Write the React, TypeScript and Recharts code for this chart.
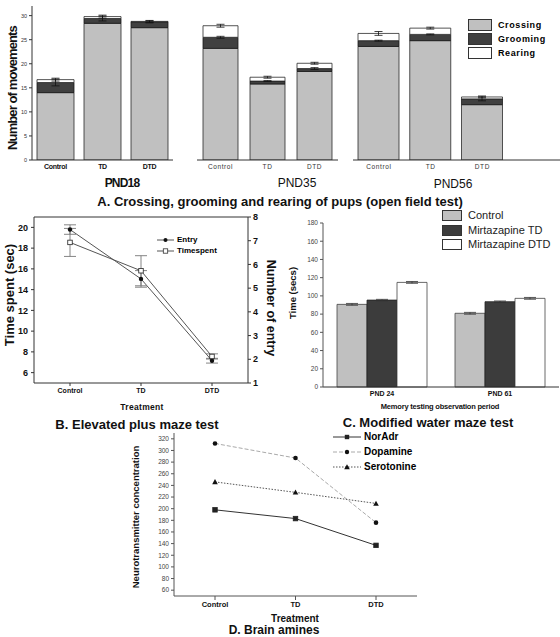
import React from 'react'
import { BarChart, Bar, LineChart, Line, XAxis, YAxis, ErrorBar, ReferenceLine } from 'recharts'

const FONT = '"Liberation Sans", Arial, sans-serif'

// A. open field test (number of movements)
const treatments = ['Control', 'TD', 'DTD']
const crossingPnd18 = [14.0, 28.4, 27.5]
const groomingPnd18 = [2.1, 1.0, 1.2]
const rearingPnd18 = [0.6, 0.4, 0.1]
const groomingErrPnd18 = [0.7, 0.5, 0.2]
const rearingErrPnd18 = [0.3, 0.3, 0.2]

const crossingPnd35 = [23.2, 15.8, 18.4]
const groomingPnd35 = [2.3, 0.6, 0.6]
const rearingPnd35 = [2.4, 0.8, 1.1]
const groomingErrPnd35 = [0.2, 0.1, 0.2]
const rearingErrPnd35 = [0.3, 0.2, 0.2]

const crossingPnd56 = [23.6, 24.8, 11.5]
const groomingPnd56 = [1.2, 1.3, 1.2]
const rearingPnd56 = [1.5, 1.3, 0.4]
const groomingErrPnd56 = [0.1, 0.1, 0.4]
const rearingErrPnd56 = [0.4, 0.2, 0.2]

const movementTicks = [0, 5, 10, 15, 20, 25, 30]

// B. elevated plus maze
const mazeEntry = [7.47, 5.39, 1.94]
const mazeEntryErr = [0.2, 0.35, 0.1]
const mazeTimespent = [18.55, 15.82, 7.56]
const mazeTimespentErr = [1.35, 1.45, 0.25]
const timeTicks = [6, 8, 10, 12, 14, 16, 18, 20]
const entryTicks = [1, 2, 3, 4, 5, 6, 7, 8]

// C. modified water maze
const periods = ['PND 24', 'PND 61']
const waterControl = [90.7, 80.9]
const waterTD = [95.4, 93.6]
const waterDTD = [114.8, 97.3]
const waterErr = [1.0, 0.8, 1.0]
const waterTicks = [0, 20, 40, 60, 80, 100, 120, 140, 160, 180]

// D. brain amines
const norAdr = [198, 183, 137]
const dopamine = [312, 287, 176]
const serotonine = [246, 228, 209]
const amineTicks = [60, 80, 100, 120, 140, 160, 180, 200, 220, 240, 260, 280, 300, 320]

const openFieldRows = (c: number[], g: number[], r: number[], ge: number[], re: number[]) =>
  treatments.map((name, i) => ({
    name,
    crossing: c[i],
    grooming: g[i],
    rearing: r[i],
    groomingErr: ge[i],
    rearingErr: re[i],
  }))

const pnd18Rows = openFieldRows(crossingPnd18, groomingPnd18, rearingPnd18, groomingErrPnd18, rearingErrPnd18)
const pnd35Rows = openFieldRows(crossingPnd35, groomingPnd35, rearingPnd35, groomingErrPnd35, rearingErrPnd35)
const pnd56Rows = [
  ...openFieldRows(crossingPnd56, groomingPnd56, rearingPnd56, groomingErrPnd56, rearingErrPnd56),
  { name: ' ' },
]

const mazeRows = treatments.map((name, i) => ({
  name,
  entry: mazeEntry[i],
  entryErr: mazeEntryErr[i],
  timespent: mazeTimespent[i],
  timespentErr: mazeTimespentErr[i],
}))

const waterRows = periods.map((name, i) => ({
  name,
  control: waterControl[i],
  td: waterTD[i],
  dtd: waterDTD[i],
  controlErr: waterErr[0],
  tdErr: waterErr[1],
  dtdErr: waterErr[2],
}))

const amineRows = treatments.map((name, i) => ({
  name,
  norAdr: norAdr[i],
  dopamine: dopamine[i],
  serotonine: serotonine[i],
}))

type DotProps = { cx?: number; cy?: number; index?: number }

const squareDot = (fill: string, size: number) => (p: DotProps) => (
  <rect
    key={`sq-${p.index}`}
    x={(p.cx ?? 0) - size / 2}
    y={(p.cy ?? 0) - size / 2}
    width={size}
    height={size}
    fill={fill}
    stroke="#222"
    strokeWidth={0.8}
  />
)

const circleDot = (r: number) => (p: DotProps) => (
  <circle key={`ci-${p.index}`} cx={p.cx} cy={p.cy} r={r} fill="#111" />
)

const triangleDot = (s: number) => (p: DotProps) => {
  const x = p.cx ?? 0
  const y = p.cy ?? 0
  return <polygon key={`tr-${p.index}`} points={`${x},${y - s} ${x - s},${y + s * 0.8} ${x + s},${y + s * 0.8}`} fill="#111" />
}

function Caption({
  x, y, children, size = 13, weight = 'bold', rotate = 0, color = '#111', spacing = 0,
}: {
  x: number
  y: number
  children: React.ReactNode
  size?: number
  weight?: string
  rotate?: number
  color?: string
  spacing?: number
}) {
  return (
    <div
      style={{
        position: 'absolute',
        left: x,
        top: y,
        transform: `translate(-50%, -50%) rotate(${rotate}deg)`,
        whiteSpace: 'nowrap',
        fontSize: size,
        fontWeight: weight as any,
        color,
        letterSpacing: spacing,
        fontFamily: FONT,
        lineHeight: 1,
      }}
    >
      {children}
    </div>
  )
}

function OpenFieldChart({
  rows, left, width, right, barSize, withAxis, boldTicks,
}: {
  rows: any[]
  left: number
  width: number
  right: number
  barSize: number
  withAxis: boolean
  boldTicks: boolean
}) {
  const tick = boldTicks
    ? { fontSize: 7, fontWeight: 'bold', fill: '#111', fontFamily: FONT, letterSpacing: -0.3 }
    : { fontSize: 6.5, fill: '#333', fontFamily: FONT, letterSpacing: 0.6 }
  return (
    <div style={{ position: 'absolute', left, top: 0 }}>
      <BarChart width={width} height={175} data={rows} margin={{ top: 6, right, left: 0, bottom: 0 }}>
        <XAxis
          dataKey="name"
          height={15}
          interval={0}
          tickLine={false}
          tickSize={0}
          tickMargin={4}
          axisLine={{ stroke: '#333' }}
          tick={tick}
        />
        <YAxis
          hide={!withAxis}
          width={32}
          domain={[0, 32]}
          ticks={movementTicks}
          interval={0}
          allowDataOverflow
          tick={{ fontSize: 5.5, fill: '#333', fontFamily: FONT }}
          tickSize={3}
          tickMargin={2}
          axisLine={{ stroke: '#333' }}
          tickLine={{ stroke: '#333' }}
        />
        <Bar dataKey="crossing" stackId="a" fill="#c0c0c0" stroke="#2a2a2a" strokeWidth={0.8} barSize={barSize} isAnimationActive={false} />
        <Bar dataKey="grooming" stackId="a" fill="#404040" stroke="#1a1a1a" strokeWidth={0.8} barSize={barSize} isAnimationActive={false}>
          <ErrorBar dataKey="groomingErr" direction="y" width={4} stroke="#111" strokeWidth={0.8} />
        </Bar>
        <Bar dataKey="rearing" stackId="a" fill="#ffffff" stroke="#2a2a2a" strokeWidth={0.8} barSize={barSize} isAnimationActive={false}>
          <ErrorBar dataKey="rearingErr" direction="y" width={4} stroke="#111" strokeWidth={0.8} />
        </Bar>
      </BarChart>
    </div>
  )
}

function Swatch({ x, y, w, h, fill, children, textStyle }: any) {
  return (
    <div style={{ position: 'absolute', left: x, top: y - h / 2, display: 'flex', alignItems: 'center', fontFamily: FONT }}>
      <div style={{ width: w, height: h, background: fill, border: '1px solid #333', boxSizing: 'border-box' }} />
      <span style={{ marginLeft: 6, whiteSpace: 'nowrap', lineHeight: 1, ...textStyle }}>{children}</span>
    </div>
  )
}

function LineKey({ x, y, w, dash, stroke, marker, children, textStyle }: any) {
  return (
    <div style={{ position: 'absolute', left: x, top: y - 5, display: 'flex', alignItems: 'center', fontFamily: FONT }}>
      <svg width={w} height={10}>
        <line x1={0} y1={5} x2={w} y2={5} stroke={stroke} strokeDasharray={dash} strokeWidth={1} />
        {marker(w / 2, 5)}
      </svg>
      <span style={{ marginLeft: 3, whiteSpace: 'nowrap', lineHeight: 1, ...textStyle }}>{children}</span>
    </div>
  )
}

export default function App() {
  const boldTick = { fontSize: 7, fontWeight: 'bold', fill: '#111', fontFamily: FONT }
  const grayTick = { fontSize: 6.5, fill: '#444', fontFamily: FONT }
  return (
    <div style={{ position: 'absolute', left: 0, top: 0, width: 560, height: 637, background: '#fff', overflow: 'hidden', fontFamily: FONT }}>
      {/* A */}
      <OpenFieldChart rows={pnd18Rows} left={0} width={180} right={7} barSize={37} withAxis boldTicks />
      <OpenFieldChart rows={pnd35Rows} left={197} width={145} right={4} barSize={35} withAxis={false} boldTicks={false} />
      <OpenFieldChart rows={pnd56Rows} left={353} width={207} right={0} barSize={41} withAxis={false} boldTicks={false} />
      <Caption x={12} y={88} rotate={-90} size={13} spacing={-0.9}>Number of movements</Caption>
      <Caption x={122} y={183} size={12} spacing={-0.8}>PND18</Caption>
      <Caption x={297} y={183} size={12} weight="normal">PND35</Caption>
      <Caption x={453} y={184} size={12} weight="normal">PND56</Caption>
      <Caption x={280} y={201} size={13}>A. Crossing, grooming and rearing of pups (open field test)</Caption>
      <Swatch x={468} y={25} w={24} h={12} fill="#c0c0c0" textStyle={{ fontSize: 9, fontWeight: 'bold', letterSpacing: 0.6 }}>Crossing</Swatch>
      <Swatch x={468} y={39} w={24} h={12} fill="#404040" textStyle={{ fontSize: 9, fontWeight: 'bold', letterSpacing: 0.6 }}>Grooming</Swatch>
      <Swatch x={468} y={53} w={24} h={12} fill="#ffffff" textStyle={{ fontSize: 9, fontWeight: 'bold', letterSpacing: 0.6 }}>Rearing</Swatch>

      {/* B */}
      <div style={{ position: 'absolute', left: 0, top: 210 }}>
        <LineChart width={280} height={190} data={mazeRows} margin={{ top: 7, right: 0, left: 0, bottom: 1 }}>
          <XAxis
            dataKey="name"
            height={16}
            interval={0}
            padding={{ left: 36, right: 36 }}
            tick={boldTick}
            tickSize={3}
            tickMargin={2}
            axisLine={{ stroke: '#333' }}
            tickLine={{ stroke: '#333' }}
          />
          <YAxis
            yAxisId="left"
            width={34}
            domain={[5, 21]}
            ticks={timeTicks}
            interval={0}
            tick={{ fontSize: 9, fontWeight: 'bold', fill: '#111', fontFamily: FONT }}
            tickSize={3}
            tickMargin={3}
            axisLine={{ stroke: '#333' }}
            tickLine={{ stroke: '#333' }}
          />
          <YAxis
            yAxisId="right"
            orientation="right"
            width={32}
            domain={[1, 8]}
            ticks={entryTicks}
            interval={0}
            tick={{ fontSize: 9, fontWeight: 'bold', fill: '#111', fontFamily: FONT }}
            tickSize={3}
            tickMargin={2}
            axisLine={{ stroke: '#333' }}
            tickLine={{ stroke: '#333' }}
          />
          <ReferenceLine yAxisId="left" y={21} stroke="#333" />
          <Line
            yAxisId="right"
            dataKey="entry"
            type="linear"
            stroke="#555"
            strokeWidth={1}
            dot={circleDot(2.2)}
            isAnimationActive={false}
          >
            <ErrorBar dataKey="entryErr" direction="y" width={6} stroke="#777" strokeWidth={0.9} />
          </Line>
          <Line
            yAxisId="left"
            dataKey="timespent"
            type="linear"
            stroke="#555"
            strokeWidth={1}
            dot={squareDot('#fff', 4.5)}
            isAnimationActive={false}
          >
            <ErrorBar dataKey="timespentErr" direction="y" width={6} stroke="#777" strokeWidth={0.9} />
          </Line>
        </LineChart>
      </div>
      <Caption x={9} y={295} rotate={-90} size={13}>Time spent (sec)</Caption>
      <Caption x={271} y={308} rotate={90} size={12.5}>Number of entry</Caption>
      <LineKey x={157} y={240} w={17} stroke="#555" marker={(x: number, y: number) => <circle cx={x} cy={y} r={2} fill="#111" />} textStyle={{ fontSize: 8, fontWeight: 'bold' }}>Entry</LineKey>
      <LineKey x={157} y={251} w={17} stroke="#555" marker={(x: number, y: number) => <rect x={x - 2.2} y={y - 2.2} width={4.4} height={4.4} fill="#fff" stroke="#333" strokeWidth={0.8} />} textStyle={{ fontSize: 8, fontWeight: 'bold' }}>Timespent</LineKey>
      <Caption x={142} y={407} size={8.5} spacing={0.3}>Treatment</Caption>
      <Caption x={137} y={424} size={13}>B. Elevated plus maze test</Caption>

      {/* C */}
      <div style={{ position: 'absolute', left: 280, top: 214 }}>
        <BarChart width={280} height={187} data={waterRows} margin={{ top: 9, right: 1, left: 0, bottom: 0 }} barGap={0}>
          <XAxis
            dataKey="name"
            height={14}
            interval={0}
            tick={boldTick}
            tickSize={0}
            tickMargin={4}
            axisLine={{ stroke: '#333' }}
            tickLine={false}
          />
          <YAxis
            width={43}
            domain={[0, 180]}
            ticks={waterTicks}
            interval={0}
            tick={grayTick}
            tickSize={3}
            tickMargin={2}
            axisLine={{ stroke: '#555' }}
            tickLine={{ stroke: '#555' }}
          />
          <Bar dataKey="control" fill="#c0c0c0" stroke="#444" strokeWidth={0.8} barSize={30} isAnimationActive={false}>
            <ErrorBar dataKey="controlErr" direction="y" width={6} stroke="#333" strokeWidth={0.8} />
          </Bar>
          <Bar dataKey="td" fill="#3c3c3c" stroke="#222" strokeWidth={0.8} barSize={30} isAnimationActive={false}>
            <ErrorBar dataKey="tdErr" direction="y" width={6} stroke="#333" strokeWidth={0.8} />
          </Bar>
          <Bar dataKey="dtd" fill="#ffffff" stroke="#444" strokeWidth={0.8} barSize={30} isAnimationActive={false}>
            <ErrorBar dataKey="dtdErr" direction="y" width={6} stroke="#333" strokeWidth={0.8} />
          </Bar>
        </BarChart>
      </div>
      <Swatch x={442} y={215} w={20} h={11} fill="#c0c0c0" textStyle={{ fontSize: 11, color: '#222' }}>Control</Swatch>
      <Swatch x={442} y={230} w={20} h={11} fill="#3c3c3c" textStyle={{ fontSize: 11, color: '#222' }}>Mirtazapine TD</Swatch>
      <Swatch x={442} y={244} w={20} h={11} fill="#ffffff" textStyle={{ fontSize: 11, color: '#222' }}>Mirtazapine DTD</Swatch>
      <Caption x={293} y={293} rotate={-90} size={9.5}>Time (secs)</Caption>
      <Caption x={440} y={407} size={7.5} spacing={-0.2}>Memory testing observation period</Caption>
      <Caption x={428} y={422} size={13}>C. Modified water maze test</Caption>

      {/* D */}
      <div style={{ position: 'absolute', left: 140, top: 425 }}>
        <LineChart width={280} height={191} data={amineRows} margin={{ top: 8, right: 3, left: 0, bottom: 0 }}>
          <XAxis
            dataKey="name"
            height={20}
            interval={0}
            padding={{ left: 41, right: 41 }}
            tick={{ fontSize: 7.5, fontWeight: 'bold', fill: '#111', fontFamily: FONT }}
            tickSize={4}
            tickMargin={2}
            axisLine={{ stroke: '#555' }}
            tickLine={{ stroke: '#555' }}
          />
          <YAxis
            width={34}
            domain={[50, 330]}
            ticks={amineTicks}
            interval={0}
            tick={grayTick}
            tickSize={3}
            tickMargin={2}
            axisLine={{ stroke: '#555' }}
            tickLine={{ stroke: '#555' }}
          />
          <Line dataKey="norAdr" type="linear" stroke="#333" strokeWidth={1} dot={squareDot('#222', 4.5)} isAnimationActive={false} />
          <Line dataKey="dopamine" type="linear" stroke="#aaa" strokeWidth={1} strokeDasharray="4 2" dot={circleDot(2.3)} isAnimationActive={false} />
          <Line dataKey="serotonine" type="linear" stroke="#555" strokeWidth={1} strokeDasharray="1.5 1.5" dot={triangleDot(2.8)} isAnimationActive={false} />
        </LineChart>
      </div>
      <LineKey x={333} y={437} w={28} stroke="#333" marker={(x: number, y: number) => <rect x={x - 2.2} y={y - 2.2} width={4.4} height={4.4} fill="#222" />} textStyle={{ fontSize: 10, fontWeight: 'bold' }}>NorAdr</LineKey>
      <LineKey x={333} y={452} w={28} stroke="#aaa" dash="4 2" marker={(x: number, y: number) => <circle cx={x} cy={y} r={2.2} fill="#111" />} textStyle={{ fontSize: 10, fontWeight: 'bold' }}>Dopamine</LineKey>
      <LineKey x={333} y={467} w={28} stroke="#555" dash="1.5 1.5" marker={(x: number, y: number) => <polygon points={`${x},${y - 2.8} ${x - 2.8},${y + 2.2} ${x + 2.8},${y + 2.2}`} fill="#111" />} textStyle={{ fontSize: 10, fontWeight: 'bold' }}>Serotonine</LineKey>
      <Caption x={136} y={517} rotate={-90} size={9.5}>Neurotransmitter concentration</Caption>
      <Caption x={295} y={619} size={10}>Treatment</Caption>
      <Caption x={274} y={630} size={12}>D. Brain amines</Caption>
    </div>
  )
}
